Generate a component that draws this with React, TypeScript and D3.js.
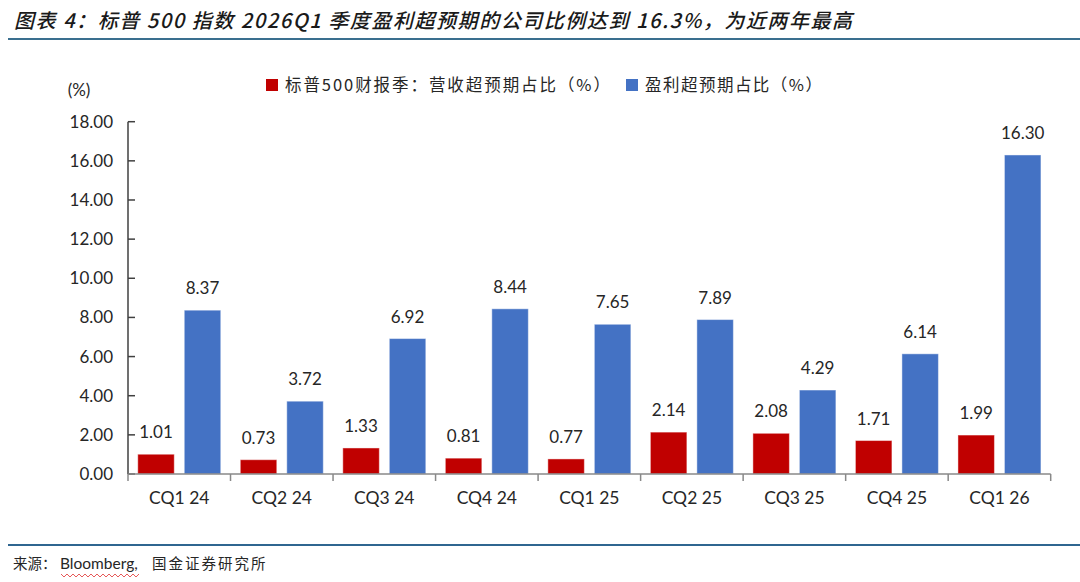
import * as d3 from "d3";

const categories = ["CQ1 24", "CQ2 24", "CQ3 24", "CQ4 24", "CQ1 25", "CQ2 25", "CQ3 25", "CQ4 25", "CQ1 26"];
const revenueBeat = [1.01, 0.73, 1.33, 0.81, 0.77, 2.14, 2.08, 1.71, 1.99];
const earningsBeat = [8.37, 3.72, 6.92, 8.44, 7.65, 7.89, 4.29, 6.14, 16.3];
const yTicks = [0, 2, 4, 6, 8, 10, 12, 14, 16, 18];
const seriesNames = ["标普500财报季：营收超预期占比（%）", "盈利超预期占比（%）"];
const seriesColors = ["#C00000", "#4472C4"];

const title = "图表 4：标普 500 指数 2026Q1 季度盈利超预期的公司比例达到 16.3%，为近两年最高";
const source = ["来源：", "Bloomberg,", "国金证券研究所"];

const W = 1080;
const H = 582;
const numFont = "Lato, 'Open Sans', sans-serif";
const cjkFont = "'Noto Sans CJK SC', sans-serif";

export default function App() {
  // plot area
  const left = 128, right = 1050.7, top = 121.7, bottom = 474;

  const x = d3.scaleBand<string>().domain(categories).range([left, right]).padding(0);
  const xs = d3
    .scaleBand<number>()
    .domain([0, 1])
    .range([0, x.bandwidth()])
    .paddingInner(0.215)
    .paddingOuter(0.21);
  const y = d3.scaleLinear().domain([0, 18]).range([bottom, top]);

  const series = [revenueBeat, earningsBeat];
  const boundaries = categories.map((c) => x(c)!).concat([right]);

  // wavy spell-check underline under "Bloomberg"
  const wave = d3.range(0, 27).map((i) => [61 + i * 3, i % 2 === 0 ? 574 : 577] as [number, number]);

  return (
    <svg
      width={W}
      height={H}
      style={{ position: "absolute", left: 0, top: 0, display: "block", background: "#fff" }}
    >
      {/* title */}
      <text
        x={14}
        y={28}
        fontFamily={cjkFont}
        fontSize={20}
        fontWeight={500}
        fontStyle="italic"
        fill="#1a1a1a"
        textLength={838}
        lengthAdjust="spacing"
      >
        {title}
      </text>
      <line x1={8} x2={W} y1={39} y2={39} stroke="#3A6F8F" strokeWidth={2.2} />

      {/* unit */}
      <text x={79} y={96} textAnchor="middle" fontFamily={numFont} fontSize={17} fill="#262626">
        (%)
      </text>

      {/* legend */}
      <rect x={266} y={79} width={12} height={12} fill={seriesColors[0]} />
      <text
        x={285}
        y={91}
        fontFamily={cjkFont}
        fontSize={16.5}
        fill="#262626"
        textLength={325}
        lengthAdjust="spacing"
      >
        {seriesNames[0]}
      </text>
      <rect x={626} y={79} width={12} height={12} fill={seriesColors[1]} />
      <text
        x={645}
        y={91}
        fontFamily={cjkFont}
        fontSize={16.5}
        fill="#262626"
        textLength={177}
        lengthAdjust="spacing"
      >
        {seriesNames[1]}
      </text>

      {/* y axis */}
      <line x1={left} x2={left} y1={y(18)} y2={bottom} stroke="#404040" strokeWidth={1.5} />
      {yTicks.map((t) => (
        <g key={t}>
          <line x1={left} x2={left + 7} y1={y(t)} y2={y(t)} stroke="#404040" strokeWidth={1.5} />
          <text
            x={113}
            y={y(t) + 6}
            textAnchor="end"
            fontFamily={numFont}
            fontSize={17}
            fill="#262626"
          >
            {t.toFixed(2)}
          </text>
        </g>
      ))}

      {/* bars */}
      {categories.map((c, i) => (
        <g key={c}>
          {series.map((s, k) => {
            const bx = x(c)! + xs(k)!;
            const v = s[i];
            return (
              <g key={k}>
                <rect
                  x={bx}
                  y={y(v)}
                  width={xs.bandwidth()}
                  height={bottom - y(v)}
                  fill={seriesColors[k]}
                  stroke="#ffffff"
                  strokeOpacity={0.45}
                  strokeWidth={1}
                />
                <text
                  x={bx + xs.bandwidth() / 2}
                  y={y(v) - 16}
                  textAnchor="middle"
                  fontFamily={numFont}
                  fontSize={17}
                  fill="#262626"
                >
                  {v.toFixed(2)}
                </text>
              </g>
            );
          })}
          <text
            x={x(c)! + x.bandwidth() / 2}
            y={504}
            textAnchor="middle"
            fontFamily={numFont}
            fontSize={17.5}
            fill="#262626"
          >
            {c}
          </text>
        </g>
      ))}

      {/* x axis */}
      <line x1={left} x2={right} y1={bottom} y2={bottom} stroke="#898989" strokeWidth={1.5} />
      {boundaries.map((bx, i) => (
        <line key={i} x1={bx} x2={bx} y1={bottom} y2={bottom + 7} stroke="#898989" strokeWidth={1.5} />
      ))}

      {/* footer */}
      <line x1={8} x2={W} y1={545} y2={545} stroke="#2F6690" strokeWidth={2} />
      <text x={13} y={569} fontFamily={cjkFont} fontSize={14.5} fill="#262626">
        {source[0]}
      </text>
      <text x={60} y={569} fontFamily={numFont} fontSize={15.5} fill="#262626">
        {source[1]}
      </text>
      <path d={d3.line()(wave)!} fill="none" stroke="#e03030" strokeWidth={0.8} />
      <text x={152} y={569} fontFamily={cjkFont} fontSize={14.5} letterSpacing={2} fill="#262626">
        {source[2]}
      </text>
    </svg>
  );
}
